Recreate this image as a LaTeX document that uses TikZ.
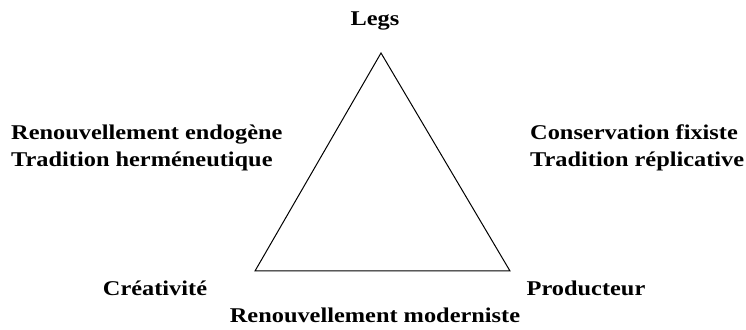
\documentclass[tikz,border=0pt]{standalone}
\usepackage{fontspec}
\setmainfont{Liberation Serif}[FakeStretch=1.16]
\usepackage{tikz}
\usetikzlibrary{positioning}

\tikzset{
	lbl/.style={font=\fontsize{21}{26}\selectfont\bfseries, inner sep=0pt, anchor=base},
	lblleft/.style={lbl, anchor=base west}
}

\begin{document}
\begin{tikzpicture}[x=1pt, y=1pt]
			% Fix the size of the picture
			\useasboundingbox (0, 0) rectangle (746, 329);
			
			% Corners of the triangle
			\coordinate (legs) at (381, 276);
			\coordinate (creat) at (255, 58);
			\coordinate (prod) at (510, 58);
			
			% Draw the triangle
			\draw[line width=1pt, line join=miter] (legs) -- (prod) -- (creat) -- cycle;
			
			% Labels at the corners
			\node[lbl] (legslbl) at (375, 303) {Legs};
			\node[lbl] (creatlbl) at (155, 34) {Créativité};
			\node[lbl] (prodlbl) at (586, 34) {Producteur};
			\node[lbl] (moderniste) at (375, 7) {Renouvellement moderniste};
			
			% Labels for the sides
			\node[lblleft] (endogene) at (11, 189) {Renouvellement endogène};
			\node[lblleft] (hermeneutique) at (11, 162) {Tradition herméneutique};
			\node[lblleft] (fixiste) at (530, 189) {Conservation fixiste};
			\node[lblleft] (replicative) at (530, 162) {Tradition réplicative};
			
		\end{tikzpicture}
\end{document}
